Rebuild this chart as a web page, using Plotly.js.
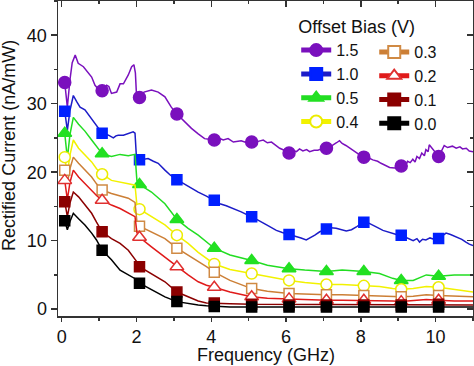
<!DOCTYPE html>
<html><head><meta charset="utf-8">
<script src="https://cdn.plot.ly/plotly-3.0.1.min.js"></script>
<style>html,body{margin:0;padding:0;background:#fff}#chart{width:474px;height:366px}</style>
</head><body><div id="chart"></div>
<script>
// ---- data ----
const freq15 = [0.08,0.15,0.22,0.28,0.36,0.44,0.58,0.71,0.8,0.89,1.0,1.08,1.2,1.26,1.33,1.47,1.56,1.65,1.78,1.87,1.93,1.97,2.0,2.08,2.2,2.4,2.58,2.76,2.93,3.08,3.29,3.47,3.65,3.82,3.95,4.08,4.2,4.32,4.45,4.59,4.8,4.95,5.08,5.25,5.39,5.5,5.61,5.72,5.83,5.95,6.08,6.18,6.28,6.36,6.45,6.55,6.63,6.75,6.85,6.95,7.08,7.18,7.25,7.35,7.43,7.5,7.6,7.7,7.8,7.92,8.08,8.2,8.32,8.45,8.54,8.65,8.77,8.9,9.08,9.15,9.2,9.25,9.32,9.39,9.45,9.5,9.57,9.63,9.7,9.74,9.8,9.83,9.9,9.95,10.08,10.15,10.23,10.32,10.45,10.55,10.65,10.72,10.82,10.9,11.0];
const bias15 = [33.1,29.5,33.5,36.0,37.1,35.9,35.4,34.6,33.9,32.7,32.0,31.9,32.7,32.5,31.5,31.7,32.9,32.9,34.2,35.4,35.7,34.5,31.2,30.9,31.7,32.0,31.7,31.0,29.5,28.5,27.3,26.4,25.6,24.9,24.8,24.7,25.0,24.7,24.9,24.4,24.6,24.3,24.4,24.5,24.7,24.3,24.4,23.9,23.5,23.2,22.8,23.2,23.0,23.4,23.1,23.3,23.0,23.2,23.2,23.4,23.5,23.7,23.9,24.3,24.6,24.2,23.9,23.5,23.1,22.7,22.2,22.1,21.8,21.6,21.3,21.0,20.7,20.6,20.9,21.4,21.0,21.6,21.4,21.9,21.5,22.3,22.0,22.8,22.4,23.3,23.0,24.0,23.5,23.2,22.3,23.0,23.9,23.6,23.8,23.5,23.7,23.4,23.5,23.1,23.0];

const freq10 = [0.08,0.15,0.22,0.31,0.4,0.49,0.62,0.76,0.89,1.08,1.25,1.38,1.45,1.51,1.65,1.78,1.91,1.96,2.0,2.08,2.31,2.45,2.58,2.76,2.9,3.08,3.2,3.38,3.5,3.65,3.87,4.08,4.23,4.4,4.59,4.8,4.95,5.08,5.25,5.48,5.6,5.74,5.9,6.08,6.2,6.28,6.4,6.54,6.65,6.77,6.9,7.08,7.2,7.34,7.45,7.61,7.75,7.88,8.0,8.08,8.2,8.32,8.45,8.59,8.7,8.85,8.95,9.08,9.2,9.3,9.4,9.5,9.57,9.65,9.74,9.85,9.95,10.08,10.2,10.28,10.4,10.54,10.7,10.81,10.9,11.0];
const bias10 = [28.9,26.1,29.0,31.2,30.3,29.5,29.1,28.1,27.1,25.7,25.4,25.0,25.3,25.4,25.4,25.6,25.9,25.7,22.0,21.8,22.0,21.6,21.3,20.3,19.6,18.9,18.5,17.9,17.5,17.1,16.5,15.9,15.4,15.1,14.7,14.2,13.8,13.5,13.0,12.3,11.9,11.5,11.2,10.9,10.8,10.6,10.4,10.1,10.4,10.8,11.3,11.7,11.9,11.8,11.6,11.4,11.6,12.0,12.5,12.7,12.6,12.3,11.9,11.5,11.3,11.1,10.9,10.8,10.5,10.3,10.0,10.3,9.8,10.2,10.1,10.4,10.2,10.3,10.8,11.1,10.9,10.6,10.2,9.8,9.5,9.3];

const freqLow = [0.08,0.15,0.22,0.31,0.45,0.62,0.8,0.93,1.08,1.33,1.56,1.78,1.96,2.01,2.08,2.4,2.76,3.08,3.38,3.65,3.87,4.08,4.5,5.08,5.5,6.08,6.5,7.08,7.5,8.08,8.5,8.85,9.08,9.4,9.75,10.08,10.5,11.0];
const bias05 = [25.7,22.0,25.5,28.0,27.0,26.0,24.7,23.7,22.7,22.3,22.6,22.4,22.6,18.8,18.2,17.1,15.4,13.1,11.8,10.8,9.8,8.9,7.9,7.1,6.4,5.9,5.7,5.5,5.7,5.5,5.2,4.5,4.2,4.2,5.0,4.8,5.0,5.0];
const bias04 = [22.2,19.8,22.5,24.7,23.5,22.5,21.5,20.5,19.7,18.8,18.6,18.3,18.1,15.2,14.6,13.5,12.3,10.8,9.6,8.3,7.4,6.6,5.8,5.2,4.7,4.2,3.9,3.6,3.6,3.4,3.3,3.0,2.9,3.0,3.3,3.2,2.9,2.5];
const bias03 = [20.3,18.4,20.5,22.2,21.3,20.3,19.3,18.3,17.4,16.9,16.6,16.2,15.6,12.8,12.1,11.3,10.3,8.9,7.9,6.9,6.2,5.4,4.2,3.0,2.6,2.3,2.2,2.1,2.1,2.0,1.9,1.8,1.8,1.9,2.1,2.0,1.9,1.8];
const bias02 = [18.8,16.0,18.5,20.3,19.3,18.3,17.4,16.6,15.9,15.2,14.7,14.0,13.5,11.2,10.5,9.1,7.6,6.2,5.0,4.0,3.5,3.2,2.5,1.8,1.6,1.5,1.4,1.3,1.3,1.3,1.2,1.2,1.1,1.2,1.4,1.3,1.2,1.2];
const bias01 = [15.7,13.5,15.5,17.1,16.4,15.2,14.0,12.7,11.3,10.3,9.6,8.6,7.4,6.9,6.2,5.2,4.0,2.5,1.8,1.2,0.9,0.9,0.8,0.7,0.7,0.6,0.6,0.6,0.6,0.6,0.6,0.6,0.6,0.6,0.7,0.7,0.6,0.6];
const bias00 = [12.9,11.6,12.8,14.0,13.2,12.3,11.1,10.1,8.6,7.2,5.7,5.0,4.5,4.3,3.8,2.8,1.8,1.1,0.8,0.6,0.5,0.4,0.3,0.3,0.3,0.3,0.3,0.3,0.3,0.3,0.3,0.3,0.3,0.3,0.3,0.3,0.3,0.3];

const seriesNames = ['1.5','1.0','0.5','0.4','0.3','0.2','0.1','0.0'];
const xTickVals = [0,2,4,6,8,10];
const yTickVals = [0,10,20,30,40];
const xTitle = 'Frequency (GHz)';
const yTitle = 'Rectified Current (nA/mW)';

// ---- styles ----
const styles = [
  {x:freq15, y:bias15, line:'#7a10bd', mc:'#7a10bd', sym:'circle', size:12, open:false, legend:'legend'},
  {x:freq10, y:bias10, line:'#1c1cc8', mc:'#0020ff', sym:'square', size:10, open:false, legend:'legend'},
  {x:freqLow, y:bias05, line:'#22dd22', mc:'#22e022', sym:'triangle-up', size:12, open:false, legend:'legend'},
  {x:freqLow, y:bias04, line:'#f2f200', mc:'#ecec00', sym:'circle', size:11, open:true, legend:'legend'},
  {x:freqLow, y:bias03, line:'#cc7f36', mc:'#d08a44', sym:'square', size:10, open:true, legend:'legend2'},
  {x:freqLow, y:bias02, line:'#e01a1a', mc:'#e03030', sym:'triangle-up', size:12, open:true, legend:'legend2'},
  {x:freqLow, y:bias01, line:'#8b0000', mc:'#8b0000', sym:'square', size:10, open:false, legend:'legend2'},
  {x:freqLow, y:bias00, line:'#000000', mc:'#000000', sym:'square', size:10, open:false, legend:'legend2'}
];
const isMarker = f => Math.abs(f - 0.08 - Math.round(f - 0.08)) < 1e-6;

const traces = styles.map((s, i) => ({
  type:'scatter', mode:'lines+markers', name:seriesNames[i],
  x:s.x, y:s.y, legend:s.legend,
  line:{color:s.line, width:1.5},
  marker:{symbol:s.sym, color:s.open ? '#ffffff' : s.mc, opacity:1,
    size:s.x.map(f => isMarker(f) ? s.size : 0),
    line:{color:s.mc, width:1.5}},
  hoverinfo:'skip'
}));
// invisible trace so the mirrored (inward) tick axes are drawn
traces.push({type:'scatter', x:[], y:[], xaxis:'x2', yaxis:'y2', showlegend:false, hoverinfo:'skip'});

const font = {family:'Liberation Sans, Arial, sans-serif', size:18, color:'#111'};
const legFont = {family:'Liberation Sans, Arial, sans-serif', size:16, color:'#111'};
const axisCommon = {showgrid:false, zeroline:false, showline:true, linecolor:'#333', linewidth:1.5, mirror:true,
  ticks:'outside', ticklen:6, tickwidth:1.5, tickcolor:'#333', tickfont:font};
const layout = {
  width:474, height:366, margin:{l:58, r:1, t:1, b:50},
  paper_bgcolor:'#fff', plot_bgcolor:'#fff', font:font, showlegend:true,
  xaxis:Object.assign({}, axisCommon, {range:[-0.1, 11], tickvals:xTickVals, ticklen:4,
    minor:{dtick:1, ticks:'outside', ticklen:3, tickwidth:1.5, tickcolor:'#333'}}),
  yaxis:Object.assign({}, axisCommon, {range:[-1, 45], tickvals:yTickVals,
    minor:{dtick:5, ticks:'outside', ticklen:3, tickwidth:1.5, tickcolor:'#333'}}),
  xaxis2:{overlaying:'x', side:'top', anchor:'y', range:[-0.1, 11], tickvals:xTickVals, showticklabels:false,
    ticks:'inside', ticklen:6, tickwidth:1.5, tickcolor:'#333', showgrid:false, zeroline:false, showline:false,
    minor:{dtick:1, ticks:'inside', ticklen:3, tickwidth:1.5, tickcolor:'#333'}},
  yaxis2:{overlaying:'y', side:'right', anchor:'x', range:[-1, 45], tickvals:yTickVals, showticklabels:false,
    ticks:'inside', ticklen:6, tickwidth:1.5, tickcolor:'#333', showgrid:false, zeroline:false, showline:false,
    minor:{dtick:5, ticks:'inside', ticklen:3, tickwidth:1.5, tickcolor:'#333'}},
  annotations:[
    {text:yTitle, textangle:-90, xref:'paper', yref:'paper', x:0, y:0.54,
      xanchor:'center', yanchor:'middle', xshift:-49, showarrow:false, font:font},
    {text:xTitle, xref:'paper', yref:'paper', x:0.5, y:0,
      xanchor:'center', yanchor:'middle', yshift:-39, showarrow:false, font:font}],
  legend:{x:0.574, y:0.972, xanchor:'left', yanchor:'top', bgcolor:'rgba(0,0,0,0)', font:legFont,
    itemsizing:'constant', tracegroupgap:0, title:{text:'Offset Bias (V)', font:font}},
  legend2:{x:0.762, y:0.892, xanchor:'left', yanchor:'top', bgcolor:'rgba(0,0,0,0)', font:legFont,
    itemsizing:'constant', tracegroupgap:0}
};
Plotly.newPlot('chart', traces, layout, {staticPlot:true, displayModeBar:false});
</script></body></html>
